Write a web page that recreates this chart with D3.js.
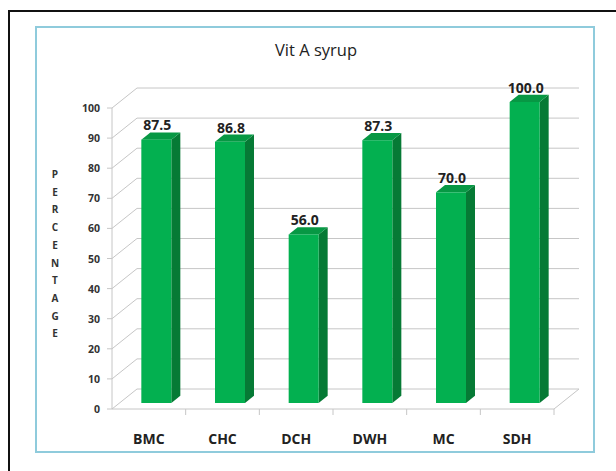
<!DOCTYPE html>
<html>
<head>
<meta charset="utf-8">
<script src="https://cdn.jsdelivr.net/npm/d3@7"></script>
<style>
  body { margin: 0; background: #fff; }
  svg { display: block; font-family: "Open Sans", sans-serif; }
</style>
</head>
<body>
<svg id="chart" width="616" height="471"></svg>
<script>
var categories = ["BMC", "CHC", "DCH", "DWH", "MC", "SDH"];
var values = [87.5, 86.8, 56.0, 87.3, 70.0, 100.0];
var yTicks = [0, 10, 20, 30, 40, 50, 60, 70, 80, 90, 100];
var yTitle = "PERCENTAGE";
var title = "Vit A syrup";

var svg = d3.select("#chart");

/* depth of the 3d box: full depth offset */
var DX = 25, DY = -20;
var d0 = 0.3, d1 = 0.66;

var x = d3.scaleBand().domain(categories).range([112, 554]).paddingInner(0).paddingOuter(0);
var y = d3.scaleLinear().domain([0, 100]).range([409, 108]);

/* outer frame + chart area */
svg.append("path")
    .attr("d", "M9,471 L9,11 L616,11")
    .attr("fill", "none").attr("stroke", "#111").attr("stroke-width", 2);
svg.append("rect")
    .attr("x", 36).attr("y", 27).attr("width", 558).attr("height", 425)
    .attr("fill", "#fff").attr("stroke", "#8fcbdc").attr("stroke-width", 2);

svg.append("text")
    .attr("x", 316).attr("y", 56)
    .attr("text-anchor", "middle")
    .attr("font-size", 16.5).attr("fill", "#222")
    .text(title);

var grid = svg.append("g").attr("stroke", "#c6c6c6").attr("stroke-width", 1).attr("fill", "none");

yTicks.forEach(function(t) {
    var yy = y(t);
    // side wall diagonal
    grid.append("line").attr("x1", 112).attr("y1", yy).attr("x2", 112 + DX).attr("y2", yy + DY);
    // back wall
    grid.append("line").attr("x1", 112 + DX).attr("y1", yy + DY).attr("x2", 554 + DX).attr("y2", yy + DY);
    // tick
    grid.append("line").attr("x1", 107).attr("y1", yy).attr("x2", 112).attr("y2", yy);
});
// front vertical axis
grid.append("line").attr("x1", 112).attr("y1", y(100)).attr("x2", 112).attr("y2", y(0));
// floor front + right edge
grid.append("line").attr("x1", 112).attr("y1", y(0)).attr("x2", 554).attr("y2", y(0));
grid.append("line").attr("x1", 554).attr("y1", y(0)).attr("x2", 554 + DX).attr("y2", y(0) + DY);
// category ticks
categories.forEach(function(c, i) {
    var xx = x(c) + x.bandwidth();
    grid.append("line").attr("x1", xx).attr("y1", y(0)).attr("x2", xx).attr("y2", y(0) + 6);
});

/* y tick labels */
svg.append("g").selectAll("text")
    .data(yTicks).enter().append("text")
    .attr("x", 100).attr("y", function(d) { return y(d) + 4; })
    .attr("text-anchor", "end")
    .attr("font-size", 10.5).attr("font-weight", "bold").attr("fill", "#333")
    .text(function(d) { return d; });

/* y title, stacked letters */
svg.append("g").selectAll("text")
    .data(yTitle.split("")).enter().append("text")
    .attr("x", 55).attr("y", function(d, i) { return 178 + i * 17.7; })
    .attr("text-anchor", "middle")
    .attr("font-size", 10).attr("font-weight", "bold").attr("fill", "#333")
    .text(function(d) { return d; });

/* bars */
var barW = 30;
var bars = svg.append("g").selectAll("g")
    .data(categories.map(function(c, i) { return { cat: c, v: values[i] }; }))
    .enter().append("g");

function pt(px, py) { return px + "," + py; }

bars.each(function(d) {
    var g = d3.select(this);
    var bx = x(d.cat) + (x.bandwidth() - barW) / 2 + DX * d0;
    var x1 = bx + barW;
    var yt = y(d.v) + DY * d0;
    var yb = y(0) + DY * d0;
    var ox = DX * (d1 - d0), oy = DY * (d1 - d0);

    g.append("polygon")
        .attr("points", [pt(x1, yt), pt(x1 + ox, yt + oy), pt(x1 + ox, yb + oy), pt(x1, yb)].join(" "))
        .attr("fill", "#067a35");
    g.append("polygon")
        .attr("points", [pt(bx, yt), pt(x1, yt), pt(x1 + ox, yt + oy), pt(bx + ox, yt + oy)].join(" "))
        .attr("fill", "#079844");
    g.append("rect")
        .attr("x", bx).attr("y", yt).attr("width", barW).attr("height", yb - yt)
        .attr("fill", "#03b050");

    g.append("text")
        .attr("x", bx + barW / 2 + 1).attr("y", yt + oy - 2)
        .attr("text-anchor", "middle")
        .attr("font-size", 14).attr("font-weight", "bold").attr("fill", "#222")
        .text(d3.format(".1f")(d.v));
});

/* category labels */
svg.append("g").selectAll("text")
    .data(categories).enter().append("text")
    .attr("x", function(d) { return x(d) + x.bandwidth() / 2; })
    .attr("y", 444)
    .attr("text-anchor", "middle")
    .attr("font-size", 14).attr("font-weight", "bold").attr("fill", "#222")
    .text(function(d) { return d; });
</script>
</body>
</html>
